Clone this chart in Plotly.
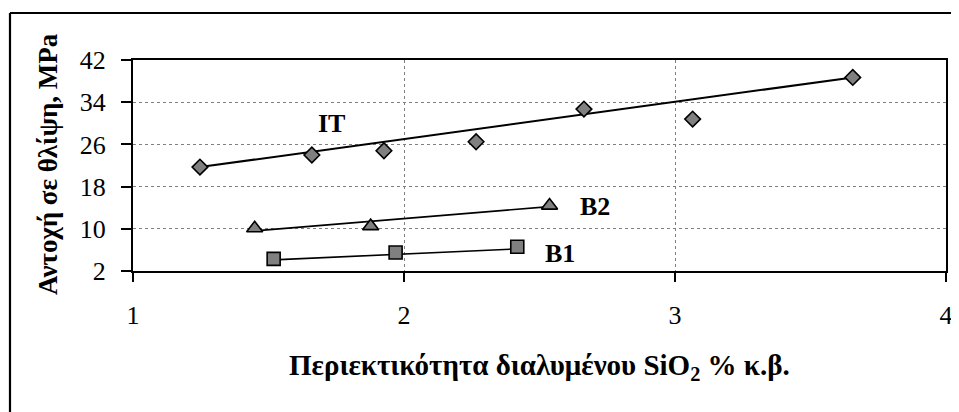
import plotly.graph_objects as go

# ---- data ----
it_x = [1.247, 1.66, 1.926, 2.266, 2.664, 3.065, 3.656]
it_y = [21.7, 24.0, 24.8, 26.5, 32.7, 30.8, 38.7]
it_trend_x = [1.247, 3.656]
it_trend_y = [21.7, 38.7]

b2_x = [1.449, 1.877, 2.537]
b2_y = [10.1, 10.5, 14.4]
b2_trend_x = [1.449, 2.537]
b2_trend_y = [9.6, 14.2]

b1_x = [1.519, 1.969, 2.418]
b1_y = [4.3, 5.5, 6.6]
b1_trend_x = [1.519, 2.418]
b1_trend_y = [4.1, 6.2]

series_labels = ["IT", "B2", "B1"]
label_x = [1.734, 2.703, 2.576]
label_y = [29.9, 14.3, 5.36]

x_ticks = [1, 2, 3, 4]
y_ticks = [2, 10, 18, 26, 34, 42]

x_title = "Περιεκτικότητα διαλυμένου SiO<sub>2</sub> % κ.β."
y_title = "Αντοχή σε θλίψη, MPa"

FONT = "Liberation Serif"
GRAY = "#808080"

fig = go.Figure()

# trend lines
for tx, ty, w in [(it_trend_x, it_trend_y, 2), (b2_trend_x, b2_trend_y, 1.6), (b1_trend_x, b1_trend_y, 1.6)]:
    fig.add_trace(go.Scatter(x=tx, y=ty, mode="lines", line=dict(color="black", width=w),
                             showlegend=False, hoverinfo="skip"))

# markers
fig.add_trace(go.Scatter(x=it_x, y=it_y, mode="markers", name="IT",
                         marker=dict(symbol="diamond", size=12, color=GRAY,
                                     line=dict(color="black", width=1.6)), showlegend=False))
fig.add_trace(go.Scatter(x=b2_x, y=b2_y, mode="markers", name="B2",
                         marker=dict(symbol="triangle-up", size=14, color=GRAY,
                                     line=dict(color="black", width=1.6)), showlegend=False))
fig.add_trace(go.Scatter(x=b1_x, y=b1_y, mode="markers", name="B1",
                         marker=dict(symbol="square", size=13, color=GRAY,
                                     line=dict(color="black", width=1.6)), showlegend=False))

annotations = []
for t, lx, ly in zip(series_labels, label_x, label_y):
    annotations.append(dict(x=lx, y=ly, xref="x", yref="y", text="<b>%s</b>" % t,
                            showarrow=False, font=dict(family=FONT, size=26, color="black"),
                            xanchor="center", yanchor="middle"))

# axis titles as annotations (paper coords)
annotations.append(dict(x=0.5, y=-0.455, xref="paper", yref="paper", text="<b>%s</b>" % x_title,
                        showarrow=False, font=dict(family=FONT, size=29, color="black"),
                        xanchor="center", yanchor="middle"))
annotations.append(dict(x=-0.1046, y=0.507, xref="paper", yref="paper", text="<b>%s</b>" % y_title,
                        showarrow=False, textangle=-90, font=dict(family=FONT, size=27, color="black"),
                        xanchor="center", yanchor="middle"))

shapes = [
    # outer chart border (top and left visible)
    dict(type="line", xref="paper", yref="paper", x0=-0.1513, x1=1.03, y0=1.2227, y1=1.2227,
         line=dict(color="black", width=2.2)),
    dict(type="line", xref="paper", yref="paper", x0=-0.1513, x1=-0.1513, y0=1.2227, y1=-0.7,
         line=dict(color="black", width=2.2)),
]

# page body has an 8px margin, so the figure is sized/offset to compensate
fig.update_layout(
    width=951, height=404,
    margin=dict(l=125, r=13, t=52, b=141, autoexpand=False),
    paper_bgcolor="white", plot_bgcolor="white",
    font=dict(family=FONT, size=26, color="black"),
    annotations=annotations, shapes=shapes,
    showlegend=False,
)

fig.update_xaxes(range=[1, 4], tickmode="array", tickvals=x_ticks, automargin=False,
                 showline=True, linecolor="black", linewidth=2, mirror=True,
                 ticks="outside", ticklen=9, tickwidth=1.5, tickcolor="black",
                 showgrid=True, gridcolor=GRAY, griddash="dot", gridwidth=1,
                 zeroline=False, ticklabelstandoff=11,
                 tickfont=dict(family=FONT, size=26, color="black"))
fig.update_yaxes(range=[2, 42], tickmode="array", tickvals=y_ticks, automargin=False,
                 showline=True, linecolor="black", linewidth=2, mirror=True,
                 ticks="outside", ticklen=10, tickwidth=1.5, tickcolor="black",
                 showgrid=True, gridcolor=GRAY, griddash="dot", gridwidth=1,
                 zeroline=False, ticklabelstandoff=10,
                 tickfont=dict(family=FONT, size=26, color="black"))

fig.write_html("out.html")
